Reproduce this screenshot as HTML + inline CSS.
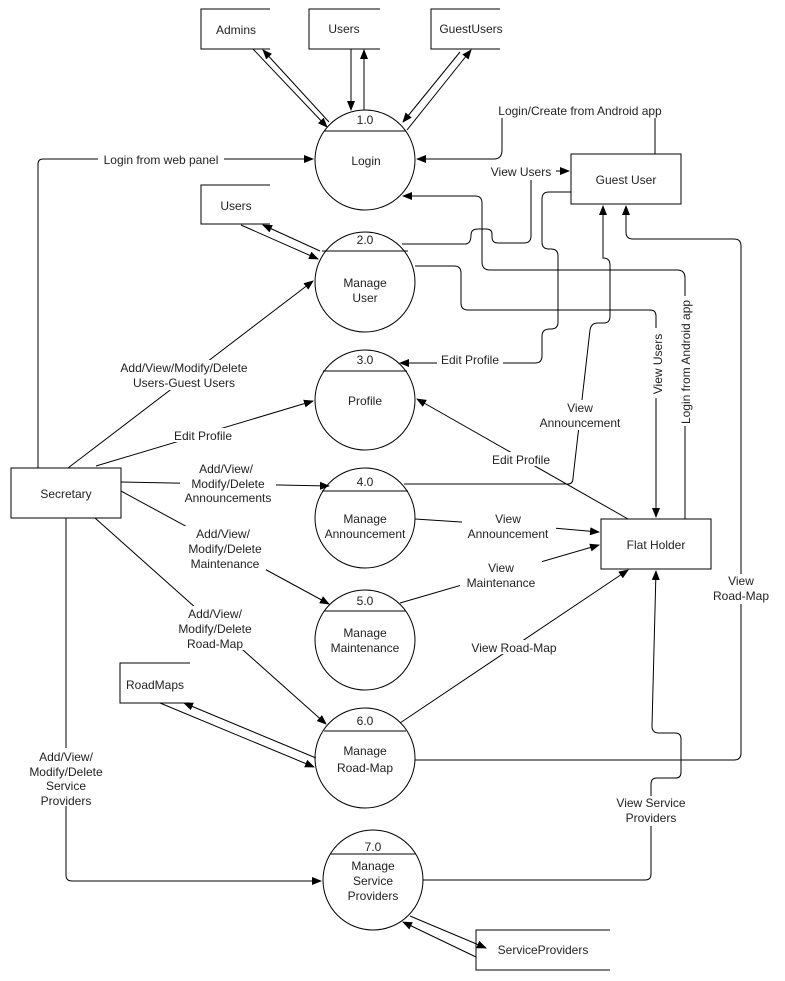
<!DOCTYPE html>
<html><head><meta charset="utf-8"><style>
html,body{margin:0;padding:0;background:#fff;}
svg{display:block;}
text{font-family:"Liberation Sans",Arial,sans-serif;font-size:12px;fill:#222;}
</style></head><body>
<svg width="785" height="981" viewBox="0 0 785 981" xmlns="http://www.w3.org/2000/svg">
<defs>
<marker id="a" markerWidth="10" markerHeight="8" refX="9" refY="4" orient="auto" markerUnits="userSpaceOnUse">
<path d="M0,0 L10,4 L0,8 z" fill="#000"/></marker>
</defs>
<g fill="none" stroke="#000" stroke-width="1">
<!-- circles -->
<circle cx="365" cy="160" r="50"/><line x1="324" y1="131" x2="406" y2="131"/>
<circle cx="365" cy="282" r="50"/><line x1="322" y1="251" x2="408" y2="251"/>
<circle cx="365" cy="400" r="50"/><line x1="323" y1="371" x2="407" y2="371"/>
<circle cx="365" cy="518" r="50"/><line x1="322" y1="491" x2="408" y2="491"/>
<circle cx="365" cy="640" r="50"/><line x1="324" y1="611" x2="406" y2="611"/>
<circle cx="365" cy="758" r="50"/><line x1="324" y1="731" x2="406" y2="731"/>
<circle cx="373" cy="880" r="50"/><line x1="330" y1="854" x2="416" y2="854"/>
<!-- data stores -->
<path d="M270,9 H201 V49 H270"/>
<path d="M380,9 H309 V49 H380"/>
<path d="M500,9 H431 V49 H500"/>
<path d="M270,185 H201 V224 H270"/>
<path d="M190,663 H120 V703 H190"/>
<path d="M610,930 H476 V970 H610"/>
<!-- entities -->
<rect x="571" y="154" width="110" height="50"/>
<rect x="601" y="519" width="110" height="50"/>
<rect x="11" y="468" width="110" height="50"/>
<!-- login store lines -->
<line x1="253" y1="49" x2="327" y2="127" marker-end="url(#a)"/>
<line x1="329" y1="122" x2="263" y2="50" marker-end="url(#a)"/>
<line x1="351" y1="49" x2="351" y2="110" marker-end="url(#a)"/>
<line x1="364" y1="110" x2="364" y2="50" marker-end="url(#a)"/>
<line x1="460" y1="52" x2="403" y2="122" marker-end="url(#a)"/>
<line x1="407" y1="130" x2="471" y2="50" marker-end="url(#a)"/>
<!-- users2 -->
<line x1="241" y1="225" x2="318" y2="259" marker-end="url(#a)"/>
<line x1="320" y1="251" x2="263" y2="225" marker-end="url(#a)"/>
<!-- roadmaps -->
<line x1="160" y1="703" x2="314" y2="767" marker-end="url(#a)"/>
<line x1="316" y1="758" x2="184" y2="703" marker-end="url(#a)"/>
<!-- service providers -->
<line x1="476" y1="957" x2="403" y2="922" marker-end="url(#a)"/>
<line x1="410" y1="916" x2="486" y2="948" marker-end="url(#a)"/>
<!-- login from web panel -->
<path d="M38,468 V164 Q38,159 43,159 H313" marker-end="url(#a)"/>
<!-- login/create from android -->
<path d="M655,154 V118"/>
<path d="M502,118 V150 Q502,159 494,159 H417" marker-end="url(#a)"/>
<!-- view users to guest user -->
<path d="M555,171 H569" marker-end="url(#a)"/>
<path d="M531,180 V236 Q531,243 524,243 H498 Q492,243 492,237 V234 Q492,229 486,229 H478 Q471,229 471,235 Q471,244 465,244 H402"/>
<!-- guest user to login (from flat holder login from android) -->
<path d="M685,519 V278 Q685,270 677,270 H490 Q482,270 482,262 V203 Q482,196 475,196 H403" marker-end="url(#a)"/>
<!-- guest user edit profile -->
<path d="M571,192 H549 Q542,192 542,199 V242 Q542,249 549,249 H551 Q558,249 558,256 V322 Q558,329 551,329 H550 Q542,329 542,336 V356 Q542,363 535,363 H400" marker-end="url(#a)"/>
<!-- manage user view users to flat holder -->
<path d="M415,266 H454 Q461,266 461,273 V303 Q461,310 468,310 H650 Q656,310 656,316 V517" marker-end="url(#a)"/>
<!-- view announcement to guest user -->
<path d="M404,484 H568 Q573,484 573,478 L590,330 Q591,323 598,323 H604 Q610,323 610,316 V265 Q610,258 603,258 Q603,258 603,258 V206" marker-end="url(#a)"/>
<!-- view road-map to guest user -->
<path d="M415,760 H734 Q741,760 741,753 V246 Q741,239 734,239 H633 Q626,239 626,232 V206" marker-end="url(#a)"/>
<!-- view service providers -->
<path d="M423,880 H645 Q651,880 651,874 V784 Q651,778 657,778 H676 Q681,778 681,772 V739 Q681,733 675,733 H659 Q652,733 652,726 L656,571" marker-end="url(#a)"/>
<!-- secretary to processes -->
<line x1="68" y1="468" x2="313" y2="281" marker-end="url(#a)"/>
<line x1="96" y1="466" x2="313" y2="401" marker-end="url(#a)"/>
<line x1="121" y1="482" x2="329" y2="486" marker-end="url(#a)"/>
<line x1="121" y1="491" x2="329" y2="604" marker-end="url(#a)"/>
<line x1="95" y1="518" x2="326" y2="724" marker-end="url(#a)"/>
<path d="M66,518 V875 Q66,881 72,881 H321" marker-end="url(#a)"/>
<!-- processes to flat holder -->
<line x1="628" y1="519" x2="417" y2="399" marker-end="url(#a)"/>
<path d="M415,519 L553,528 L599,532" marker-end="url(#a)"/>
<line x1="400" y1="603" x2="599" y2="545" marker-end="url(#a)"/>
<line x1="400" y1="723" x2="628" y2="570" marker-end="url(#a)"/>
</g>
<!-- label backgrounds -->
<g fill="#fff">
<rect x="98" y="152" width="126" height="14"/>
<rect x="488" y="164" width="68" height="14"/>
<rect x="437" y="352" width="66" height="14"/>
<rect x="120" y="360" width="130" height="30"/>
<rect x="170" y="428" width="66" height="14"/>
<rect x="180" y="461" width="96" height="44"/>
<rect x="180" y="526" width="86" height="44"/>
<rect x="175" y="606" width="80" height="44"/>
<rect x="22" y="748" width="88" height="58"/>
<rect x="534" y="400" width="92" height="30"/>
<rect x="488" y="452" width="66" height="14"/>
<rect x="462" y="511" width="94" height="30"/>
<rect x="460" y="560" width="82" height="30"/>
<rect x="466" y="640" width="96" height="14"/>
<rect x="612" y="796" width="80" height="30"/>
<rect x="714" y="574" width="54" height="30"/>
<rect x="651" y="328" width="14" height="70"/>
<rect x="679" y="296" width="14" height="130"/>
<rect x="489" y="102" width="182" height="16"/>
</g>
<g text-anchor="middle">
<text x="236" y="34">Admins</text>
<text x="344" y="33">Users</text>
<text x="471" y="33">GuestUsers</text>
<text x="236" y="210">Users</text>
<text x="155" y="689">RoadMaps</text>
<text x="543" y="954">ServiceProviders</text>
<text x="626" y="184">Guest User</text>
<text x="656" y="549">Flat Holder</text>
<text x="66" y="498">Secretary</text>
<text x="365" y="124">1.0</text><text x="366" y="165">Login</text>
<text x="365" y="244">2.0</text><text x="365" y="287">Manage</text><text x="365" y="302">User</text>
<text x="365" y="364">3.0</text><text x="365" y="405">Profile</text>
<text x="365" y="486">4.0</text><text x="365" y="523">Manage</text><text x="365" y="538">Announcement</text>
<text x="365" y="605">5.0</text><text x="365" y="637">Manage</text><text x="365" y="652">Maintenance</text>
<text x="365" y="725">6.0</text><text x="365" y="755">Manage</text><text x="365" y="772">Road-Map</text>
<text x="373" y="851">7.0</text><text x="373" y="870">Manage</text><text x="373" y="885">Service</text><text x="373" y="900">Providers</text>
<text x="161" y="164">Login from web panel</text>
<text x="580" y="115">Login/Create from Android app</text>
<text x="521" y="176">View Users</text>
<text x="470" y="364">Edit Profile</text>
<text x="184" y="372">Add/View/Modify/Delete</text>
<text x="184" y="387">Users-Guest Users</text>
<text x="203" y="440">Edit Profile</text>
<text x="226" y="473">Add/View/</text>
<text x="228" y="488">Modify/Delete</text>
<text x="228" y="502">Announcements</text>
<text x="223" y="538">Add/View/</text>
<text x="225" y="553">Modify/Delete</text>
<text x="225" y="568">Maintenance</text>
<text x="215" y="618">Add/View/</text>
<text x="215" y="633">Modify/Delete</text>
<text x="215" y="648">Road-Map</text>
<text x="66" y="761">Add/View/</text>
<text x="66" y="776">Modify/Delete</text>
<text x="66" y="790">Service</text>
<text x="66" y="805">Providers</text>
<text x="580" y="412">View</text>
<text x="580" y="427">Announcement</text>
<text x="521" y="464">Edit Profile</text>
<text x="508" y="523">View</text>
<text x="508" y="538">Announcement</text>
<text x="501" y="572">View</text>
<text x="501" y="587">Maintenance</text>
<text x="514" y="652">View Road-Map</text>
<text x="651" y="807">View Service</text>
<text x="651" y="822">Providers</text>
<text x="741" y="585">View</text>
<text x="741" y="600">Road-Map</text>
<text transform="translate(662,364) rotate(-90)">View Users</text>
<text transform="translate(690,362) rotate(-90)">Login from Android app</text>
</g>
</svg>
</body></html>
